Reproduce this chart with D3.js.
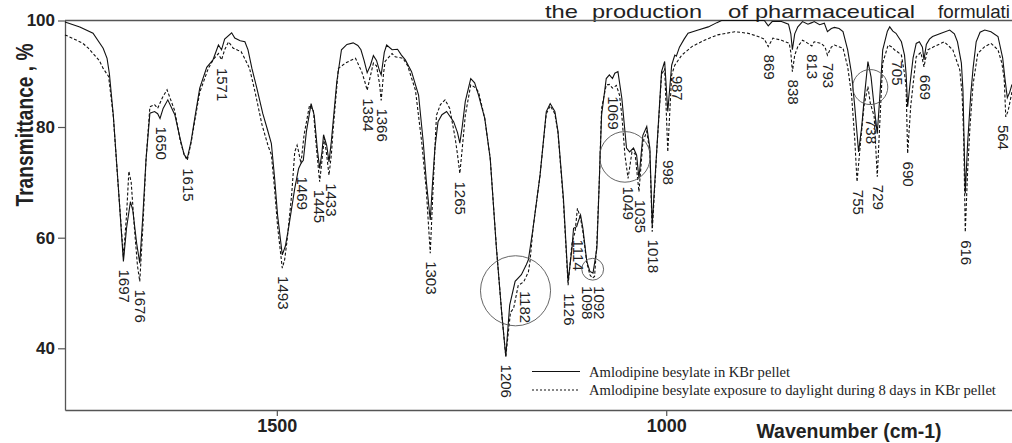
<!DOCTYPE html>
<html><head><meta charset="utf-8">
<script src="https://cdn.jsdelivr.net/npm/d3@7"></script>
<style>
html,body{margin:0;padding:0;background:#fff;}
svg{display:block;}
</style></head>
<body>
<svg id="chart" width="1012" height="443"></svg>
<script>
// ---------- data ----------
const solidSpectrum = [
[1772,99.7],[1753,98.8],[1736,97.6],[1723,94.8],[1718,92.9],[1715,90.0],[1710,82.3],[1704,70.1],[1697,55.7],[1693,61.7],[1688,66.5],[1685,65],[1680,59],[1676,55.4],[1672,64],[1668,74],[1663,82.6],[1657,82.9],[1653,82.5],[1650,81.6],[1646,83.5],[1640,85.1],[1631,82.3],[1624,77.8],[1619,75],[1615,74.3],[1610,77.5],[1605,82],[1599,87.3],[1590,91.2],[1582,92.6],[1575,95.4],[1571,94.5],[1567,96.5],[1558,97.7],[1554,96.7],[1547,96.2],[1541,96.0],[1537,94.5],[1532,91.0],[1526,87.5],[1518,82.5],[1512,79.5],[1507,77],[1503,71],[1499,64],[1493,56.9],[1489,58.5],[1485,61.7],[1477,68.9],[1472,72.5],[1469,73.4],[1466,74],[1462,79.2],[1456,84.4],[1452,82.2],[1448,76],[1445,72.5],[1442,75.5],[1440,78.6],[1436,76.7],[1433,73.7],[1430,77.4],[1423,88.5],[1417,94.5],[1410,95.5],[1402,95.8],[1396,95.3],[1392,94.5],[1388,92.5],[1384,90.2],[1380,91.5],[1376,93.4],[1372,92.5],[1368,90.5],[1366,89.8],[1362,94],[1359,95.4],[1352,94.5],[1345,94.6],[1340,93.5],[1335,92.6],[1327,90.4],[1318,86.0],[1312,77.3],[1308,70.1],[1303,63.2],[1300,70],[1297,76.2],[1293,81.0],[1288,82.3],[1282,82.9],[1273,81.0],[1268,79],[1265,77.1],[1262,80],[1258,84.8],[1251,89.1],[1246,88.3],[1241,86.0],[1233,81.6],[1226,74.3],[1218,58.1],[1211,46.0],[1206,38.5],[1201,47.8],[1194,52.1],[1186,53.3],[1180,55],[1177,56.0],[1171,61.7],[1162,71.3],[1154,82.9],[1149,84.4],[1143,82.9],[1139,79.2],[1132,67.1],[1126,52.1],[1121,58.1],[1119,61.7],[1115,62.0],[1113,62.9],[1110,64.1],[1107,61.7],[1102,55.7],[1098,53.9],[1094,53.6],[1089,58.1],[1086,70],[1083,82.2],[1077,89.1],[1073,89.8],[1069,89.1],[1066,90.1],[1062,90.4],[1057,85.4],[1051,76.2],[1047,75.5],[1042,76.2],[1038,74.9],[1035,70.7],[1030,78.5],[1025,80.1],[1021,76.2],[1018,62.3],[1012,76.2],[1006,90.4],[1002,92.3],[998,82.9],[993,91.6],[989,93.5],[987,93.3],[983,95],[977,96.5],[972,97.6],[959,98.2],[946,98.8],[935,99.6],[929,100],[874,100],[869,99.0],[864,99.8],[852,99.8],[843,99.3],[840,97.5],[838,94.5],[835,97.5],[831,98.8],[825,99.8],[818,99.3],[813,99.6],[810,99.8],[803,99.2],[797,99.5],[793,97.9],[788,98.5],[784,98.7],[778,98.5],[773,97.9],[767,94.5],[762,90],[758,84],[753,75.5],[749,80],[746,85],[741,92.3],[737,89.4],[733,83.8],[729,78.8],[726,85.1],[722,94.5],[716,98],[713,98.8],[709,98],[705,97.6],[698,96.0],[694,93.5],[692,90],[690,83.8],[687,88],[683,93],[679,95.7],[675,96.0],[671,95],[669,92.6],[666,95.5],[662,96.5],[658,97.0],[647,97.6],[636,98.2],[630,97.5],[626,96],[621,92],[619,87],[616,68],[613,77],[609,86],[606,91],[602,96],[597,97.8],[591,98.2],[583,97.9],[574,97.0],[568,93],[565,89],[562,85.5],[559,86.5],[556,88]
];
const dashedSpectrum = [
[1772,97.3],[1760,96.5],[1749,95.7],[1742,94.8],[1736,93.8],[1728,92.5],[1723,91.0],[1716,89.5],[1710,82.0],[1704,70],[1697,56.5],[1693,64],[1690,72.0],[1687,70],[1683,62],[1679,55],[1676,52.1],[1672,62],[1668,74],[1663,83.8],[1657,84.2],[1653,83.5],[1647,85.5],[1641,87.0],[1636,85],[1631,83],[1624,77.5],[1619,75],[1615,74.0],[1610,77.2],[1605,81.5],[1599,86.5],[1588,91.0],[1581,92.8],[1575,93.8],[1571,92.6],[1567,94.5],[1562,96.0],[1556,94.8],[1550,94.4],[1546,94.2],[1540,92.5],[1535,91],[1528,86.6],[1519,80.4],[1511,76.5],[1507,75],[1503,69],[1499,62],[1493,54.5],[1490,56],[1487,59.3],[1481,67.7],[1477,75.5],[1474,76.7],[1472,75.5],[1469,73.4],[1465,78.6],[1458,84.1],[1453,83],[1449,76],[1445,70.1],[1442,74],[1439,78.0],[1436,75],[1433,71.3],[1430,75],[1428,79],[1421,91.0],[1412,92.0],[1404,92.6],[1399,92.9],[1391,90.4],[1387,88.5],[1384,86.9],[1380,89.5],[1376,92.0],[1372,91.5],[1368,88],[1366,85.0],[1363,90],[1361,92.3],[1352,93.8],[1348,93.2],[1338,92.9],[1332,91.5],[1322,86.9],[1314,77.3],[1308,68.5],[1303,57.2],[1299,70.1],[1295,82.2],[1290,84.2],[1284,85.1],[1278,83.5],[1271,78.0],[1268,75],[1265,71.6],[1262,76],[1258,82.2],[1251,87.9],[1246,87.5],[1241,86.6],[1233,81.6],[1226,74.3],[1218,58.1],[1211,46.0],[1206,38.5],[1200,46.5],[1196,47.2],[1190,51.4],[1183,52.0],[1177,53.8],[1175,55.6],[1171,61.7],[1162,71.3],[1154,82.5],[1149,84.0],[1143,82.5],[1139,79],[1132,66.5],[1126,51.4],[1121,59],[1117,61.1],[1114,65.3],[1110,63.5],[1107,61.1],[1102,55.5],[1098,53.3],[1095,52.7],[1092,53.0],[1089,59.3],[1086,70],[1083,83.5],[1077,87.9],[1073,88],[1069,87.3],[1064,87.8],[1060,86],[1057,82.2],[1053,74.9],[1049,70.7],[1044,75.5],[1040,75.2],[1035,68.3],[1030,77.3],[1025,79.2],[1021,75.5],[1018,61.1],[1012,76],[1006,89.8],[1002,91.0],[998,75.5],[993,89.8],[989,91.6],[980,93.5],[967,95.1],[951,96.3],[934,97.3],[912,97.9],[895,97.6],[882,97.0],[874,96.5],[869,95.1],[863,96.7],[852,96.3],[842,95.7],[840,94],[838,90.4],[835,93.5],[831,95.1],[825,96.3],[819,95.8],[813,95.2],[810,96.0],[801,95.7],[796,95],[793,93.5],[788,95],[784,95.4],[773,94.8],[767,91.3],[762,86],[758,78],[755,70.1],[750,78],[746,84],[741,87.6],[738,84.5],[733,82],[729,71.0],[726,80],[722,92.0],[715,95.4],[710,95],[707,94.5],[702,94],[698,93.5],[694,90],[692,87.6],[690,75.2],[686,84],[683,88],[679,93.2],[673,94.0],[669,91.3],[666,93.5],[664,94.5],[656,95.1],[643,96.0],[632,94.5],[623,90.7],[620,86],[618,78],[616,61.0],[613,72],[610,80],[606,88],[600,93.8],[591,95.1],[583,95.7],[574,94.5],[569,92],[566,89],[564,81.9],[561,83],[556,86.6]
];
const peakLabels = [1697,1676,1650,1615,1571,1493,1469,1445,1433,1384,1366,1303,1265,1206,1182,1126,1114,1098,1092,1069,1049,1035,1018,998,987,869,838,813,793,755,738,729,705,690,669,616,564];
// circled regions: [wavenumber, transmittance, radius in cm-1]
const circledRegions = [[1193.5,50.4,45],[1053,74.6,32.5],[1094.4,54.3,14],[738,87.5,22.5]];
const xTicks = [1500, 1000];
const yTicks = [40, 60, 80, 100];
const seriesNames = ["Amlodipine besylate in KBr pellet",
  "Amlodipine besylate exposure to daylight during 8 days in KBr pellet"];
const xTitle = "Wavenumber (cm-1)";
const yTitle = "Transmittance , %";
// visible fragment of the page text above the figure
const captionWords = ["the","production","of","pharmaceutical","formulati"];

// ---------- scales ----------
const svg = d3.select("#chart");
const x = d3.scaleLinear().domain([1772, 556]).range([65, 1012]);
const y = d3.scaleLinear().domain([28.8, 40, 60, 80, 100]).range([410, 348.3, 237.7, 127, 20.5]);
const axisFont = "Arial, 'Liberation Sans', sans-serif";

// caption fragment at top
const capX = [545, 592, 728, 755, 938];
const capW = [33, 110, 20, 160, 72];
svg.append("g").selectAll("text").data(captionWords).join("text")
  .attr("x", (d, i) => capX[i]).attr("y", 17.5)
  .attr("textLength", (d, i) => capW[i]).attr("lengthAdjust", "spacingAndGlyphs")
  .style("font-family", axisFont).style("font-size", "19px").attr("fill", "#222")
  .text(d => d);

// frame
svg.append("line").attr("x1", 65).attr("x2", 1012).attr("y1", y(100)).attr("y2", y(100))
  .attr("stroke", "#555").attr("stroke-width", 1.3);

// axes
const gy = svg.append("g").attr("transform", "translate(65,0)")
  .call(d3.axisLeft(y).tickValues(yTicks).tickFormat(d3.format("d")).tickSize(7).tickSizeOuter(0).tickPadding(3));
gy.selectAll("text").style("font-family", axisFont).style("font-size", "17px").style("font-weight", "bold").attr("fill", "#222");
const gx = svg.append("g").attr("transform", "translate(0,410)")
  .call(d3.axisBottom(x).tickValues(xTicks).tickFormat(d3.format("d")).tickSize(6).tickSizeOuter(0).tickPadding(3));
gx.selectAll("text").style("font-family", axisFont).style("font-size", "18px").style("font-weight", "bold").attr("fill", "#222");
[gx, gy].forEach(g => {
  g.select(".domain").attr("stroke", "#555").attr("stroke-width", 1.3);
  g.selectAll(".tick line").attr("stroke", "#555").attr("stroke-width", 1.2);
});

// axis titles
svg.append("text").attr("transform", "translate(33,125) rotate(-90)")
  .attr("text-anchor", "middle").attr("textLength", 163).attr("lengthAdjust", "spacingAndGlyphs")
  .style("font-family", axisFont).style("font-size", "23px").style("font-weight", "bold").attr("fill", "#222")
  .text(yTitle);
svg.append("text").attr("x", 849).attr("y", 438)
  .attr("text-anchor", "middle").attr("textLength", 185).attr("lengthAdjust", "spacingAndGlyphs")
  .style("font-family", axisFont).style("font-size", "21px").style("font-weight", "bold").attr("fill", "#222")
  .text(xTitle);

// curves
const line = d3.line().x(d => x(d[0])).y(d => y(d[1]));
svg.append("path").datum(dashedSpectrum).attr("d", line).attr("fill", "none")
  .attr("stroke", "#111").attr("stroke-width", 1.1).attr("stroke-dasharray", "3,2");
svg.append("path").datum(solidSpectrum).attr("d", line).attr("fill", "none")
  .attr("stroke", "#111").attr("stroke-width", 1.1);

// peak labels: placed under the lowest of the two traces, then pushed apart if they collide
function interp(data, w) {
  for (let i = 0; i < data.length - 1; i++) {
    const a = data[i], b = data[i + 1];
    if (w <= a[0] && w >= b[0]) { const t = (a[0] - w) / (a[0] - b[0]); return a[1] + t * (b[1] - a[1]); }
  }
  return 100;
}
function lowest(w) {
  let m = 200;
  for (let d = -3; d <= 3; d += 0.5) {
    m = Math.min(m, interp(solidSpectrum, w + d), interp(dashedSpectrum, w + d));
  }
  return m;
}
const labelFontSize = 15, labelLen = (n) => String(n).length * 0.556 * labelFontSize;
const labelPos = peakLabels.map(d => ({ v: d, cx: x(d) + 1, top: y(lowest(d)) + 8 }))
  .sort((a, b) => a.cx - b.cx);
for (let iter = 0; iter < 20; iter++) {
  for (let i = 0; i < labelPos.length - 1; i++) {
    for (let j = i + 1; j < labelPos.length; j++) {
      const a = labelPos[i], b = labelPos[j];
      const dx = b.cx - a.cx;
      if (dx >= 12.5) break;
      const overlapY = !(a.top + labelLen(a.v) < b.top || b.top + labelLen(b.v) < a.top);
      if (overlapY) { const push = (12.5 - dx) / 2; a.cx -= push; b.cx += push; }
    }
  }
}
labelPos.forEach(d => { d.cx = Math.min(d.cx, 1003); });
svg.append("g").selectAll("text").data(labelPos).join("text")
  .attr("transform", d => `translate(${d.cx - 5.4},${d.top}) rotate(90)`)
  .style("font-family", axisFont).style("font-size", labelFontSize + "px").attr("fill", "#222")
  .text(d => d.v);

// circles
svg.append("g").selectAll("circle").data(circledRegions).join("circle")
  .attr("cx", d => x(d[0])).attr("cy", d => y(d[1]))
  .attr("r", d => Math.abs(x(d[0] + d[2]) - x(d[0])))
  .attr("fill", "none").attr("stroke", "#555").attr("stroke-width", 0.9);

// legend
const leg = svg.append("g");
seriesNames.forEach((name, i) => {
  const yy = 371.5 + i * 18.5;
  leg.append("line").attr("x1", 532).attr("x2", 580).attr("y1", yy).attr("y2", yy)
    .attr("stroke", "#111").attr("stroke-width", 1.1).attr("stroke-dasharray", i ? "2,2" : null);
  leg.append("text").attr("x", 589).attr("y", yy + 5)
    .style("font-family", "'Liberation Serif', 'Times New Roman', serif").style("font-size", "14.6px").attr("fill", "#222")
    .text(name);
});
</script>
</body></html>
